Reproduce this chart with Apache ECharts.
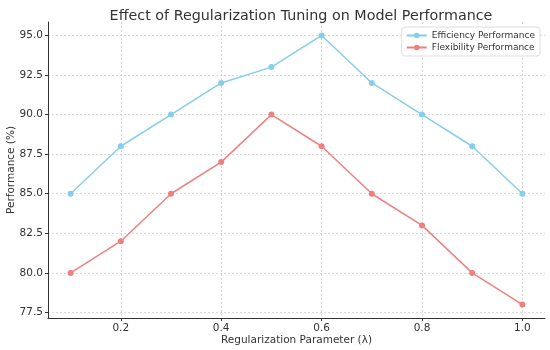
<!DOCTYPE html>
<html><head><meta charset="utf-8">
<script src="https://cdn.jsdelivr.net/npm/echarts@6/dist/echarts.min.js"></script>
<style>html,body{margin:0;padding:0;background:#fff}#c{width:550px;height:350px}</style>
</head><body><div id="c"></div>
<script>
const lambdas = [0.1,0.2,0.3,0.4,0.5,0.6,0.7,0.8,0.9,1.0];
const efficiency = [85,88,90,92,93,95,92,90,88,85];
const flexibility = [80,82,85,87,90,88,85,83,80,78];
const xTicks = [0.2,0.4,0.6,0.8,1.0];
const yTicks = [77.5,80,82.5,85,87.5,90,92.5,95];
const F = 'DejaVu Sans';
const chart = echarts.init(document.getElementById('c'));
chart.setOption({
  animation:false,
  title:{text:'Effect of Regularization Tuning on Model Performance',left:296,textAlign:'center',top:4,
    textStyle:{fontFamily:F,fontSize:14.3,fontWeight:'normal',color:'#333'}},
  legend:{right:10,top:27,orient:'vertical',itemWidth:20,itemHeight:7,itemGap:3,
    backgroundColor:'#fff',borderColor:'#ddd',borderWidth:1,borderRadius:3,padding:[4,5,4,4],
    textStyle:{fontFamily:F,fontSize:9,color:'#333'}},
  grid:{left:48,right:5,top:22,bottom:32,containLabel:false,outerBoundsMode:'none'},
  xAxis:{type:'value',min:0.055,max:1.045,
    name:'Regularization Parameter (λ)',nameLocation:'middle',nameGap:17,nameMoveOverlap:false,
    nameTextStyle:{fontFamily:F,fontSize:10.5,color:'#333',verticalAlign:'top'},
    axisLine:{lineStyle:{color:'#333',width:1}},
    axisTick:{customValues:xTicks,length:3,lineStyle:{color:'#333'}},
    axisLabel:{customValues:xTicks,fontFamily:F,fontSize:10.5,color:'#333',margin:5,formatter:v=>v.toFixed(1)},
    splitLine:{show:true,lineStyle:{color:'#d0d0d0',type:[2,2],width:0.8}}},
  yAxis:{type:'value',min:77.15,max:95.85,
    name:'Performance (%)',nameLocation:'middle',nameGap:31,nameMoveOverlap:false,
    nameTextStyle:{fontFamily:F,fontSize:10.5,color:'#333'},
    axisLine:{show:true,lineStyle:{color:'#333',width:1}},
    axisTick:{show:true,customValues:yTicks,length:3,lineStyle:{color:'#333'}},
    axisLabel:{customValues:yTicks,fontFamily:F,fontSize:10.5,color:'#333',margin:5,formatter:v=>v.toFixed(1)},
    splitLine:{show:true,lineStyle:{color:'#d0d0d0',type:[2,2],width:0.8}}},
  series:[
    {name:'Efficiency Performance',type:'line',data:lambdas.map((x,i)=>[x,efficiency[i]]),
      symbol:'circle',symbolSize:6,color:'#87CEEB',lineStyle:{width:1.5}},
    {name:'Flexibility Performance',type:'line',data:lambdas.map((x,i)=>[x,flexibility[i]]),
      symbol:'circle',symbolSize:6,color:'#F08080',lineStyle:{width:1.5}}
  ]
});
</script></body></html>
